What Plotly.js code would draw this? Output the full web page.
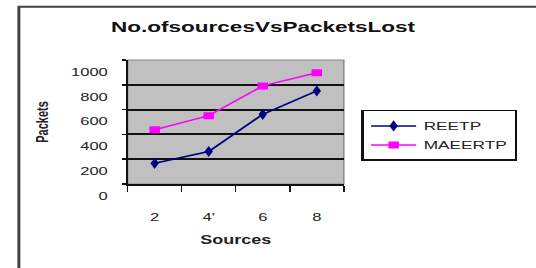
<!DOCTYPE html>
<html><head><meta charset="utf-8">
<script src="https://cdn.plot.ly/plotly-3.0.1.min.js"></script>
<style>
html,body{margin:0;padding:0;background:#fff;overflow:hidden}
#wrap{width:536px;height:268px;overflow:hidden;position:relative}
#chart{width:357px;height:268px;transform:scaleX(1.5014);transform-origin:0 0}
</style>
</head><body><div id="wrap"><div id="chart"></div></div>
<script>
const sources = ["2", "4'", "6", "8"];
const reetp = [167, 262, 562, 751];
const maeertp = [438, 551, 791, 897];
const yTicks = [0, 200, 400, 600, 800, 1000];
const yTickText = ["0", "200", "400", "600", "800", "1000"];

const FONT = "Liberation Sans, Arial, sans-serif";
const traces = [
  {x: sources, y: reetp, name: "REETP", type: "scatter", mode: "lines+markers",
   line: {color: "#000080", width: 1.5},
   marker: {symbol: "diamond-tall", size: 8, color: "#000080"}},
  {x: sources, y: maeertp, name: "MAEERTP", type: "scatter", mode: "lines+markers",
   line: {color: "#ff00ff", width: 1.5},
   marker: {symbol: "square", size: 7, color: "#ff00ff"}}
];
const layout = {
  width: 357, height: 268,
  margin: {l: 85, r: 114, t: 60, b: 84},
  paper_bgcolor: "#ffffff", plot_bgcolor: "#c0c0c0",
  font: {family: FONT, size: 11, color: "#222"},
  title: {text: "No.ofsourcesVsPacketsLost", font: {family: FONT, size: 15, weight: "bold", color: "#111"},
          xref: "container", x: 0.4908, xanchor: "center", yref: "container", y: 0.899, yanchor: "middle"},
  xaxis: {type: "category", range: [-0.5, 3.5], tickson: "boundaries", ticks: "outside", ticklen: 6,
          tickwidth: 1, tickcolor: "#111", showline: true, linecolor: "#111", linewidth: 1.5,
          showgrid: false, zeroline: false, ticklabelstandoff: 22, fixedrange: true,
          tickfont: {family: FONT, size: 11, color: "#222"},
          title: {text: "Sources", font: {family: FONT, size: 12, weight: "bold", color: "#222"}, standoff: 14}},
  yaxis: {range: [0, 1000], tickvals: yTicks, ticktext: yTickText, ticks: "outside", ticklen: 3,
          tickwidth: 1.5, tickcolor: "#111", showline: true, linecolor: "#111", linewidth: 1,
          showgrid: true, gridcolor: "#111", gridwidth: 2, zeroline: false, ticklabelshift: 12,
          ticklabelstandoff: 7, fixedrange: true,
          tickfont: {family: FONT, size: 11, color: "#222"},
          title: {text: "Packets", font: {family: FONT, size: 11, weight: "bold", color: "#222"}, standoff: 12}},
  legend: {x: 1.081, xanchor: "left", y: 0.597, yanchor: "top", bgcolor: "#ffffff",
           bordercolor: "#111", borderwidth: 1.5, font: {family: FONT, size: 11.5, color: "#222"}},
  shapes: [
    {type: "rect", xref: "paper", yref: "paper", x0: 0, x1: 1, y0: 0, y1: 1,
     line: {color: "#888", width: 1}, layer: "below"},
    {type: "rect", xref: "paper", yref: "paper", x0: -0.503, x1: 2.0, y0: -1.0, y1: 1.43,
     line: {color: "#444", width: 2}, fillcolor: "rgba(0,0,0,0)"}
  ],
  showlegend: true
};
Plotly.newPlot("chart", traces, layout, {displayModeBar: false, staticPlot: true});
</script>
</body></html>
